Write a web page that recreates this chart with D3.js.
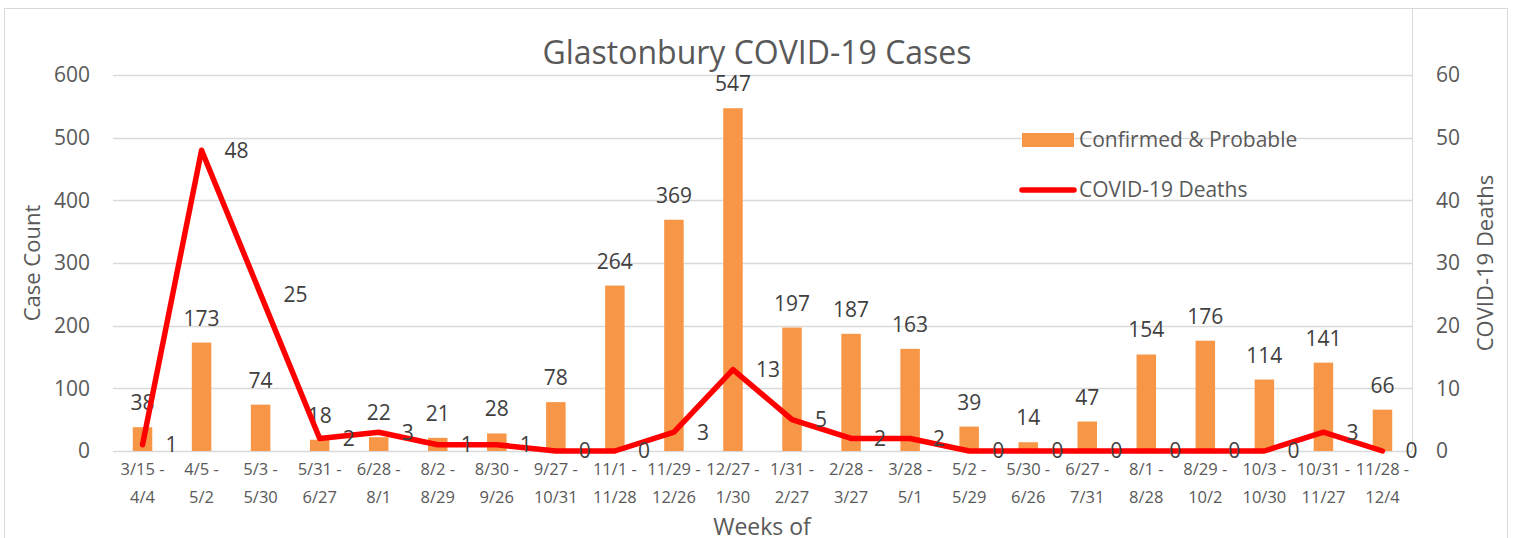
<!DOCTYPE html>
<html>
<head>
<meta charset="utf-8">
<script src="https://cdn.jsdelivr.net/npm/d3@7"></script>
<style>
    body { margin: 0; background: #fff; }
    svg text { font-family: "Open Sans", "DejaVu Sans", sans-serif; }
</style>
</head>
<body>
<svg id="chart"></svg>
<script>
var weekStart = ["3/15 -", "4/5 -", "5/3 -", "5/31 -", "6/28 -", "8/2 -", "8/30 -", "9/27 -", "11/1 -", "11/29 -", "12/27 -",
    "1/31 -", "2/28 -", "3/28 -", "5/2 -", "5/30 -", "6/27 -", "8/1 -", "8/29 -", "10/3 -", "10/31 -", "11/28 -"];
var weekEnd = ["4/4", "5/2", "5/30", "6/27", "8/1", "8/29", "9/26", "10/31", "11/28", "12/26", "1/30",
    "2/27", "3/27", "5/1", "5/29", "6/26", "7/31", "8/28", "10/2", "10/30", "11/27", "12/4"];
var cases = [38, 173, 74, 18, 22, 21, 28, 78, 264, 369, 547, 197, 187, 163, 39, 14, 47, 154, 176, 114, 141, 66];
var deaths = [1, 48, 25, 2, 3, 1, 1, 0, 0, 3, 13, 5, 2, 2, 0, 0, 0, 0, 0, 0, 3, 0];
var caseTicks = [0, 100, 200, 300, 400, 500, 600];
var deathTicks = [0, 10, 20, 30, 40, 50, 60];

var width = 1517,
    height = 538,
    plotLeft = 113, plotRight = 1412,
    plotTop = 75, plotBottom = 451,
    orange = "#f79646",
    red = "#ff0000",
    grey = "#595959";

var svg = d3.select("svg#chart")
    .attr("width", width)
    .attr("height", height);

// chart frame
svg.append("rect")
    .attr("x", 4.5).attr("y", 8.5)
    .attr("width", 1503).attr("height", 540)
    .attr("fill", "#fff")
    .attr("stroke", "#d9d9d9");

var idx = d3.range(cases.length);

var x = d3.scaleBand()
    .domain(idx)
    .range([plotLeft, plotRight])
    .paddingInner(0.67)
    .paddingOuter(0.335);

var xc = function(i) { return x(i) + x.bandwidth() / 2; };

var yCases = d3.scaleLinear().domain([0, 600]).range([plotBottom, plotTop]);
var yDeaths = d3.scaleLinear().domain([0, 60]).range([plotBottom, plotTop]);

// gridlines
svg.append("g")
    .selectAll("line")
    .data(caseTicks)
    .enter()
    .append("line")
        .attr("x1", plotLeft).attr("x2", plotRight)
        .attr("y1", function(d) { return Math.round(yCases(d)) + 0.5; })
        .attr("y2", function(d) { return Math.round(yCases(d)) + 0.5; })
        .attr("stroke", "#d9d9d9")
        .attr("stroke-width", 1.3);

svg.append("line")
    .attr("x1", plotRight + 0.5).attr("x2", plotRight + 0.5)
    .attr("y1", 8).attr("y2", plotBottom)
    .attr("stroke", "#d9d9d9");

// left axis
var leftAxis = svg.append("g")
    .attr("transform", "translate(" + [90, 0] + ")")
    .call(d3.axisLeft(yCases).tickValues(caseTicks).tickSize(0).tickPadding(0));
leftAxis.select(".domain").remove();
leftAxis.selectAll("text")
    .attr("fill", grey)
    .style("font-size", "21px");

// right axis
var rightAxis = svg.append("g")
    .attr("transform", "translate(" + [1436, 0] + ")")
    .call(d3.axisRight(yDeaths).tickValues(deathTicks).tickSize(0).tickPadding(0));
rightAxis.select(".domain").remove();
rightAxis.selectAll("text")
    .attr("fill", grey)
    .style("font-size", "21px");

// category labels
var cat = svg.append("g")
    .selectAll("text")
    .data(idx)
    .enter()
    .append("text")
        .attr("x", xc)
        .attr("text-anchor", "middle")
        .attr("fill", grey)
        .style("font-size", "16.5px");
cat.append("tspan")
    .attr("x", xc)
    .attr("y", 475)
    .text(function(i) { return weekStart[i]; });
cat.append("tspan")
    .attr("x", xc)
    .attr("y", 503)
    .text(function(i) { return weekEnd[i]; });

// bars
svg.append("g")
    .selectAll("rect")
    .data(cases)
    .enter()
    .append("rect")
        .attr("x", function(d, i) { return x(i); })
        .attr("y", function(d) { return yCases(d); })
        .attr("width", x.bandwidth())
        .attr("height", function(d) { return plotBottom - yCases(d); })
        .attr("fill", orange);

svg.append("g")
    .selectAll("text")
    .data(cases)
    .enter()
    .append("text")
        .attr("x", function(d, i) { return xc(i); })
        .attr("y", function(d) { return yCases(d) - 17; })
        .attr("text-anchor", "middle")
        .attr("fill", "#404040")
        .style("font-size", "21px")
        .text(function(d) { return d; });

// deaths line
var line = d3.line()
    .x(function(d, i) { return xc(i); })
    .y(function(d) { return yDeaths(d); });

svg.append("path")
    .attr("d", line(deaths))
    .attr("fill", "none")
    .attr("stroke", red)
    .attr("stroke-width", 5.5)
    .attr("stroke-linejoin", "round")
    .attr("stroke-linecap", "round");

svg.append("g")
    .selectAll("text")
    .data(deaths)
    .enter()
    .append("text")
        .attr("x", function(d, i) { return xc(i) + 23; })
        .attr("y", function(d) { return yDeaths(d); })
        .attr("dy", "0.35em")
        .attr("fill", "#404040")
        .style("font-size", "21px")
        .text(function(d) { return d; });

// titles
svg.append("text")
    .attr("x", 757).attr("y", 64)
    .attr("text-anchor", "middle")
    .attr("fill", grey)
    .style("font-size", "32px")
    .text("Glastonbury COVID-19 Cases");

svg.append("text")
    .attr("transform", "translate(" + [40, (plotTop + plotBottom) / 2] + ") rotate(-90)")
    .attr("text-anchor", "middle")
    .attr("fill", grey)
    .style("font-size", "22px")
    .text("Case Count");

svg.append("text")
    .attr("transform", "translate(" + [1493, (plotTop + plotBottom) / 2] + ") rotate(-90)")
    .attr("text-anchor", "middle")
    .attr("fill", grey)
    .style("font-size", "22px")
    .text("COVID-19 Deaths");

svg.append("text")
    .attr("x", 762).attr("y", 535)
    .attr("text-anchor", "middle")
    .attr("fill", grey)
    .style("font-size", "23px")
    .text("Weeks of");

// legend
var legend = svg.append("g");
legend.append("rect")
    .attr("x", 1022).attr("y", 133)
    .attr("width", 52).attr("height", 14)
    .attr("fill", orange);
legend.append("text")
    .attr("x", 1079).attr("y", 140)
    .attr("dy", "0.35em")
    .attr("fill", grey)
    .style("font-size", "21px")
    .text("Confirmed & Probable");
legend.append("line")
    .attr("x1", 1022).attr("x2", 1074)
    .attr("y1", 190).attr("y2", 190)
    .attr("stroke", red)
    .attr("stroke-width", 5.5)
    .attr("stroke-linecap", "round");
legend.append("text")
    .attr("x", 1079).attr("y", 190)
    .attr("dy", "0.35em")
    .attr("fill", grey)
    .style("font-size", "21px")
    .text("COVID-19 Deaths");
</script>
</body>
</html>
